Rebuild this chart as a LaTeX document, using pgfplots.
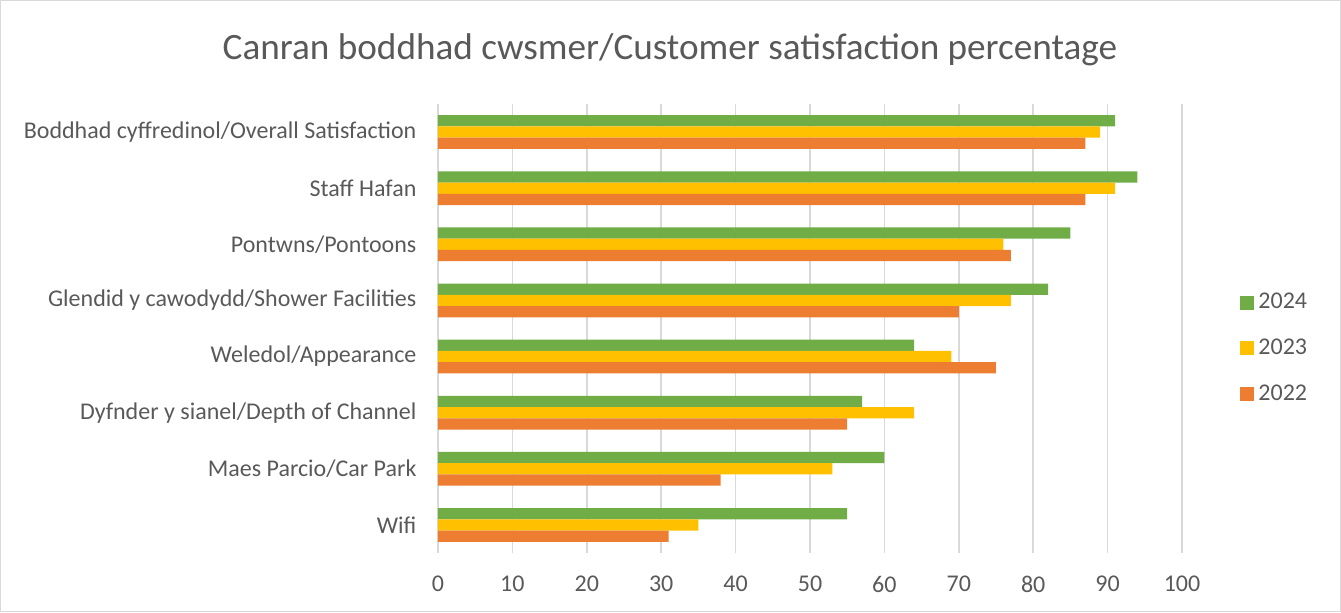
\documentclass[border=0pt]{standalone}
\usepackage{pgfplots}
\pgfplotsset{compat=1.18}
\usepackage{fontspec}
\setmainfont{Carlito}
\definecolor{cgreen}{HTML}{70AD47}
\definecolor{cyellow}{HTML}{FFC000}
\definecolor{corange}{HTML}{ED7D31}
\definecolor{ctext}{HTML}{595959}
\definecolor{cgrid}{HTML}{D9D9D9}
\begin{document}
\begin{tikzpicture}
\useasboundingbox (0,0) rectangle (670.5pt,306pt);
\draw[cgrid, line width=0.6pt] (0.3pt,0.3pt) rectangle (670.2pt,305.7pt);
\node[text=ctext, font=\fontsize{18.6}{21}\selectfont] at (335pt,281pt) {Canran boddhad cwsmer/Customer satisfaction percentage};
\begin{axis}[
  at={(219pt,29.5pt)}, anchor=south west,
  scale only axis,
  width=372pt, height=224.5pt,
  xmin=0, xmax=100,
  ymin=-0.5, ymax=7.5,
  xtick={0,10,...,100},
  ytick={0,...,7},
  yticklabels={Wifi, Maes Parcio/Car Park, Dyfnder y sianel/Depth of Channel, Weledol/Appearance, Glendid y cawodydd/Shower Facilities, Pontwns/Pontoons, Staff Hafan, Boddhad cyffredinol/Overall Satisfaction},
  xmajorgrids,
  grid style={cgrid, line width=0.75pt},
  axis line style={draw=none},
  major tick style={draw=none},
  tick label style={text=ctext, font=\fontsize{12}{14}\selectfont},
  /pgf/number format/assume math mode=true,
  xticklabel style={yshift=-8pt},
  yticklabel style={xshift=-3pt},
  xbar, bar width=0.201,
  legend style={at={(1.07,0.456)}, anchor=west, draw=none, fill=none,
    font=\fontsize{12}{14}\selectfont, text=ctext, row sep=9.5pt,
    legend cell align=left},
  legend image code/.code={\fill[#1] (0pt,-3.5pt) rectangle (7pt,3.5pt);},
]
\addplot[fill=cgreen, draw=none, bar shift=0.201] coordinates {(55,0) (60,1) (57,2) (64,3) (82,4) (85,5) (94,6) (91,7)};
\addplot[fill=cyellow, draw=none, bar shift=0] coordinates {(35,0) (53,1) (64,2) (69,3) (77,4) (76,5) (91,6) (89,7)};
\addplot[fill=corange, draw=none, bar shift=-0.201] coordinates {(31,0) (38,1) (55,2) (75,3) (70,4) (77,5) (87,6) (87,7)};
\legend{2024,2023,2022}
\end{axis}
\end{tikzpicture}
\end{document}
